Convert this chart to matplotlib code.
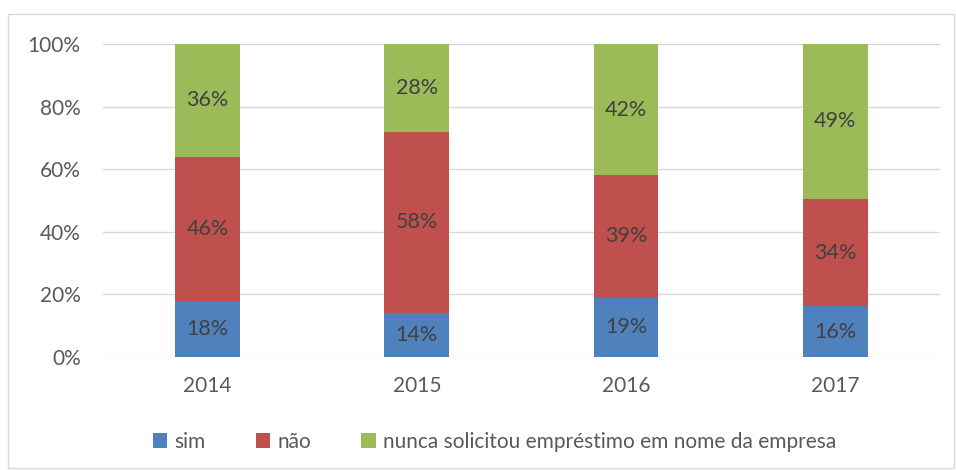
import matplotlib.pyplot as plt
import numpy as np
from matplotlib.patches import Rectangle

years = ["2014", "2015", "2016", "2017"]
sim = [18, 14, 19, 16]
nao = [46, 58, 39, 34]
nunca = [36, 28, 42, 49]
series_names = ["sim", "não", "nunca solicitou empréstimo em nome da empresa"]
colors = ["#4F81BD", "#C0504D", "#9BBB59"]

plt.rcParams["font.family"] = ["Lato", "DejaVu Sans"]

data = np.array([sim, nao, nunca], dtype=float)
shares = data / data.sum(axis=0) * 100

fig = plt.figure(figsize=(9.56, 4.70), dpi=100)
ax = fig.add_axes([0.1077, 0.2404, 0.8753, 0.666])

x = np.arange(len(years))
bottom = np.zeros(len(years))
for vals, shown, name, col in zip(shares, data, series_names, colors):
    ax.bar(x, vals, width=0.31, bottom=bottom, color=col, label=name, zorder=3)
    for xi, b, v, s in zip(x, bottom, vals, shown):
        ax.text(xi, b + v / 2, f"{s:.0f}%", ha="center", va="center",
                fontsize=15.5, color="#404040", zorder=4)
    bottom += vals

ax.set_xlim(-0.5, 3.5)
ax.set_ylim(0, 100)
ax.set_yticks(range(0, 101, 20))
ax.set_yticklabels([f"{v}%" for v in range(0, 101, 20)])
ax.set_xticks(x)
ax.set_xticklabels(years)
ax.tick_params(axis="both", length=0, labelsize=15, colors="#595959")
ax.tick_params(axis="y", pad=16)
ax.tick_params(axis="x", pad=14)
ax.grid(axis="y", color="#D9D9D9", linewidth=1, zorder=0)
for sp in ax.spines.values():
    sp.set_visible(False)

ax.legend(loc="center", bbox_to_anchor=(0.468, -0.27), ncol=3, frameon=False,
          fontsize=15, labelcolor="#595959", handlelength=0.7, handleheight=0.7,
          columnspacing=2.4, handletextpad=0.35)

fig.patches.append(Rectangle((8 / 956, 0.005), 0.99, 1 - 14 / 470 - 0.005,
                             transform=fig.transFigure, fill=False,
                             edgecolor="#D9D9D9", linewidth=1))

fig.savefig("out.png", dpi=100)
